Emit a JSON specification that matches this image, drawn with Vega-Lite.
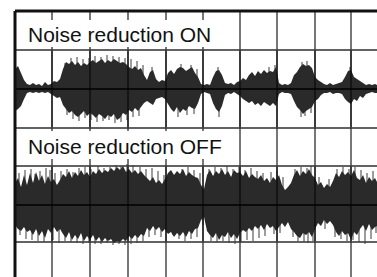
{
  "$schema": "https://vega.github.io/schema/vega-lite/v6.json",
  "width": 362,
  "height": 266,
  "autosize": {"type": "none"},
  "padding": {"left": 15, "top": 11, "right": 0, "bottom": 0},
  "background": "white",
  "config": {"view": {"stroke": null}},
  "datasets": {
    "gx": [{"t": 37}, {"t": 75}, {"t": 113}, {"t": 151}, {"t": 188}, {"t": 225}, {"t": 262}, {"t": 300}, {"t": 336}],
    "gy": [{"v": 227}, {"v": 188}, {"v": 149}, {"v": 111}, {"v": 72}, {"v": 35}],
    "over": [
      {"t":37,"a":150,"b":226},{"t":75,"a":150,"b":226},{"t":113,"a":150,"b":226},{"t":151,"a":150,"b":226},{"t":188,"a":150,"b":226},{"t":225,"a":150,"b":226},{"t":262,"a":150,"b":226},{"t":300,"a":150,"b":226},{"t":336,"a":150,"b":226},
      {"t":37,"a":36,"b":110},{"t":75,"a":36,"b":110},{"t":113,"a":36,"b":110},{"t":151,"a":36,"b":110},{"t":188,"a":36,"b":110},{"t":225,"a":36,"b":110},{"t":262,"a":36,"b":110},{"t":300,"a":36,"b":110},{"t":336,"a":36,"b":110}
    ],
    "centers": [{"v": 188}, {"v": 72}],
    "boxes": [{"x1": 5, "x2": 201, "y1": 257, "y2": 230}, {"x1": 5, "x2": 212, "y1": 146, "y2": 118}],
    "labels": [{"t": 13, "v": 235, "label": "Noise reduction ON"}, {"t": 13, "v": 123, "label": "Noise reduction OFF"}],
    "border": [{"x1": 0, "x2": 0, "y1": 0, "y2": 266}, {"x1": 0, "x2": 362, "y1": 266, "y2": 266}],
    "spikes": [
      {"t":50,"a":188,"b":214},{"t":56,"a":188,"b":219},{"t":62,"a":188,"b":220},{"t":68,"a":188,"b":218},{"t":74,"a":188,"b":219},{"t":80,"a":188,"b":221},{"t":86,"a":188,"b":220},{"t":92,"a":188,"b":222},{"t":98,"a":188,"b":221},{"t":104,"a":188,"b":220},{"t":110,"a":188,"b":219},{"t":116,"a":188,"b":218},{"t":122,"a":188,"b":216},{"t":128,"a":188,"b":212},{"t":137,"a":188,"b":210},{"t":166,"a":188,"b":213},{"t":176,"a":188,"b":212},{"t":182,"a":188,"b":208},{"t":203,"a":188,"b":210},{"t":254,"a":188,"b":210},{"t":260,"a":188,"b":212},{"t":287,"a":188,"b":215},{"t":292,"a":188,"b":216},{"t":335,"a":188,"b":210},
      {"t":52,"a":188,"b":162},{"t":58,"a":188,"b":158},{"t":64,"a":188,"b":156},{"t":70,"a":188,"b":159},{"t":76,"a":188,"b":157},{"t":82,"a":188,"b":155},{"t":88,"a":188,"b":156},{"t":94,"a":188,"b":157},{"t":100,"a":188,"b":154},{"t":106,"a":188,"b":155},{"t":112,"a":188,"b":157},{"t":118,"a":188,"b":160},{"t":124,"a":188,"b":161},{"t":163,"a":188,"b":160},{"t":172,"a":188,"b":162},{"t":179,"a":188,"b":163},{"t":204,"a":188,"b":160},{"t":286,"a":188,"b":160},{"t":290,"a":188,"b":161},{"t":296,"a":188,"b":164},
      {"t":4,"a":72,"b":104},{"t":10,"a":72,"b":107},{"t":16,"a":72,"b":108},{"t":20,"a":72,"b":103},{"t":25,"a":72,"b":106},{"t":31,"a":72,"b":109},{"t":35,"a":72,"b":107},{"t":40,"a":72,"b":104},{"t":46,"a":72,"b":106},{"t":52,"a":72,"b":108},{"t":58,"a":72,"b":105},{"t":64,"a":72,"b":109},{"t":70,"a":72,"b":110},{"t":76,"a":72,"b":108},{"t":83,"a":72,"b":111},{"t":89,"a":72,"b":109},{"t":95,"a":72,"b":110},{"t":101,"a":72,"b":112},{"t":106,"a":72,"b":111},{"t":112,"a":72,"b":113},{"t":118,"a":72,"b":112},{"t":125,"a":72,"b":110},{"t":131,"a":72,"b":108},{"t":137,"a":72,"b":109},{"t":143,"a":72,"b":106},{"t":149,"a":72,"b":102},{"t":155,"a":72,"b":104},{"t":161,"a":72,"b":101},{"t":167,"a":72,"b":108},{"t":173,"a":72,"b":110},{"t":179,"a":72,"b":107},{"t":185,"a":72,"b":104},{"t":194,"a":72,"b":108},{"t":200,"a":72,"b":110},{"t":206,"a":72,"b":109},{"t":212,"a":72,"b":111},{"t":218,"a":72,"b":108},{"t":224,"a":72,"b":110},{"t":230,"a":72,"b":107},{"t":236,"a":72,"b":109},{"t":242,"a":72,"b":106},{"t":248,"a":72,"b":104},{"t":256,"a":72,"b":105},{"t":262,"a":72,"b":106},{"t":268,"a":72,"b":100},{"t":280,"a":72,"b":108},{"t":286,"a":72,"b":110},{"t":292,"a":72,"b":109},{"t":296,"a":72,"b":111},{"t":304,"a":72,"b":100},{"t":314,"a":72,"b":98},{"t":322,"a":72,"b":108},{"t":328,"a":72,"b":110},{"t":334,"a":72,"b":108},{"t":340,"a":72,"b":110},{"t":346,"a":72,"b":107},{"t":352,"a":72,"b":104},{"t":358,"a":72,"b":106},
      {"t":5,"a":72,"b":42},{"t":11,"a":72,"b":38},{"t":17,"a":72,"b":37},{"t":23,"a":72,"b":36},{"t":29,"a":72,"b":35},{"t":38,"a":72,"b":37},{"t":44,"a":72,"b":34},{"t":50,"a":72,"b":36},{"t":56,"a":72,"b":35},{"t":62,"a":72,"b":34},{"t":68,"a":72,"b":33},{"t":74,"a":72,"b":34},{"t":80,"a":72,"b":33},{"t":86,"a":72,"b":33},{"t":92,"a":72,"b":34},{"t":98,"a":72,"b":32},{"t":104,"a":72,"b":33},{"t":110,"a":72,"b":32},{"t":116,"a":72,"b":33},{"t":122,"a":72,"b":34},{"t":128,"a":72,"b":36},{"t":134,"a":72,"b":40},{"t":140,"a":72,"b":42},{"t":146,"a":72,"b":40},{"t":152,"a":72,"b":44},{"t":158,"a":72,"b":42},{"t":164,"a":72,"b":38},{"t":170,"a":72,"b":36},{"t":176,"a":72,"b":38},{"t":182,"a":72,"b":40},{"t":188,"a":72,"b":52},{"t":196,"a":72,"b":36},{"t":202,"a":72,"b":35},{"t":208,"a":72,"b":36},{"t":214,"a":72,"b":34},{"t":220,"a":72,"b":33},{"t":226,"a":72,"b":35},{"t":232,"a":72,"b":37},{"t":238,"a":72,"b":36},{"t":244,"a":72,"b":39},{"t":250,"a":72,"b":41},{"t":259,"a":72,"b":43},{"t":265,"a":72,"b":44},{"t":278,"a":72,"b":40},{"t":283,"a":72,"b":36},{"t":289,"a":72,"b":35},{"t":293,"a":72,"b":34},{"t":298,"a":72,"b":36},{"t":310,"a":72,"b":48},{"t":320,"a":72,"b":40},{"t":326,"a":72,"b":38},{"t":332,"a":72,"b":36},{"t":338,"a":72,"b":37},{"t":344,"a":72,"b":35},{"t":350,"a":72,"b":33},{"t":356,"a":72,"b":38},{"t":361,"a":72,"b":44}
    ],
    "wave": [
      {"p":"on","t":0,"hi":208,"lo":166},{"p":"on","t":3,"hi":211,"lo":168},{"p":"on","t":6,"hi":204,"lo":171},{"p":"on","t":9,"hi":197,"lo":178},{"p":"on","t":12,"hi":193,"lo":184},{"p":"on","t":15,"hi":192,"lo":185},{"p":"on","t":18,"hi":194,"lo":184},{"p":"on","t":21,"hi":192,"lo":185},{"p":"on","t":24,"hi":193,"lo":184},{"p":"on","t":27,"hi":191,"lo":185},{"p":"on","t":30,"hi":195,"lo":184},{"p":"on","t":33,"hi":192,"lo":185},{"p":"on","t":36,"hi":193,"lo":183},{"p":"on","t":39,"hi":196,"lo":181},{"p":"on","t":42,"hi":195,"lo":179},{"p":"on","t":45,"hi":198,"lo":180},{"p":"on","t":48,"hi":208,"lo":172},{"p":"on","t":51,"hi":215,"lo":168},{"p":"on","t":54,"hi":213,"lo":164},{"p":"on","t":57,"hi":216,"lo":166},{"p":"on","t":60,"hi":212,"lo":162},{"p":"on","t":63,"hi":215,"lo":160},{"p":"on","t":66,"hi":211,"lo":163},{"p":"on","t":69,"hi":214,"lo":166},{"p":"on","t":72,"hi":212,"lo":161},{"p":"on","t":75,"hi":215,"lo":164},{"p":"on","t":78,"hi":217,"lo":162},{"p":"on","t":81,"hi":214,"lo":159},{"p":"on","t":84,"hi":216,"lo":163},{"p":"on","t":87,"hi":218,"lo":161},{"p":"on","t":90,"hi":214,"lo":158},{"p":"on","t":93,"hi":217,"lo":162},{"p":"on","t":96,"hi":215,"lo":160},{"p":"on","t":99,"hi":218,"lo":163},{"p":"on","t":102,"hi":216,"lo":157},{"p":"on","t":105,"hi":214,"lo":159},{"p":"on","t":108,"hi":215,"lo":164},{"p":"on","t":111,"hi":213,"lo":162},{"p":"on","t":114,"hi":210,"lo":167},{"p":"on","t":117,"hi":208,"lo":165},{"p":"on","t":120,"hi":211,"lo":169},{"p":"on","t":123,"hi":207,"lo":166},{"p":"on","t":126,"hi":209,"lo":170},{"p":"on","t":129,"hi":202,"lo":174},{"p":"on","t":132,"hi":197,"lo":176},{"p":"on","t":135,"hi":205,"lo":174},{"p":"on","t":138,"hi":207,"lo":172},{"p":"on","t":141,"hi":198,"lo":178},{"p":"on","t":144,"hi":195,"lo":179},{"p":"on","t":147,"hi":197,"lo":180},{"p":"on","t":150,"hi":196,"lo":178},{"p":"on","t":153,"hi":204,"lo":173},{"p":"on","t":156,"hi":207,"lo":168},{"p":"on","t":159,"hi":203,"lo":165},{"p":"on","t":162,"hi":208,"lo":170},{"p":"on","t":165,"hi":210,"lo":164},{"p":"on","t":168,"hi":209,"lo":168},{"p":"on","t":171,"hi":206,"lo":166},{"p":"on","t":174,"hi":208,"lo":171},{"p":"on","t":177,"hi":210,"lo":169},{"p":"on","t":180,"hi":204,"lo":168},{"p":"on","t":183,"hi":200,"lo":174},{"p":"on","t":186,"hi":193,"lo":183},{"p":"on","t":189,"hi":192,"lo":185},{"p":"on","t":192,"hi":193,"lo":184},{"p":"on","t":195,"hi":192,"lo":183},{"p":"on","t":198,"hi":200,"lo":174},{"p":"on","t":201,"hi":206,"lo":168},{"p":"on","t":204,"hi":207,"lo":165},{"p":"on","t":207,"hi":202,"lo":171},{"p":"on","t":210,"hi":194,"lo":182},{"p":"on","t":213,"hi":193,"lo":184},{"p":"on","t":216,"hi":194,"lo":183},{"p":"on","t":219,"hi":192,"lo":185},{"p":"on","t":222,"hi":195,"lo":183},{"p":"on","t":225,"hi":196,"lo":181},{"p":"on","t":228,"hi":199,"lo":178},{"p":"on","t":231,"hi":197,"lo":176},{"p":"on","t":234,"hi":202,"lo":174},{"p":"on","t":237,"hi":205,"lo":176},{"p":"on","t":240,"hi":201,"lo":172},{"p":"on","t":243,"hi":206,"lo":174},{"p":"on","t":246,"hi":203,"lo":171},{"p":"on","t":249,"hi":207,"lo":175},{"p":"on","t":252,"hi":204,"lo":173},{"p":"on","t":255,"hi":206,"lo":171},{"p":"on","t":258,"hi":205,"lo":174},{"p":"on","t":261,"hi":210,"lo":171},{"p":"on","t":264,"hi":194,"lo":183},{"p":"on","t":267,"hi":192,"lo":185},{"p":"on","t":270,"hi":193,"lo":184},{"p":"on","t":273,"hi":192,"lo":184},{"p":"on","t":276,"hi":194,"lo":183},{"p":"on","t":279,"hi":202,"lo":176},{"p":"on","t":282,"hi":205,"lo":170},{"p":"on","t":285,"hi":210,"lo":167},{"p":"on","t":288,"hi":213,"lo":163},{"p":"on","t":291,"hi":211,"lo":166},{"p":"on","t":294,"hi":212,"lo":168},{"p":"on","t":297,"hi":209,"lo":170},{"p":"on","t":300,"hi":200,"lo":176},{"p":"on","t":303,"hi":197,"lo":178},{"p":"on","t":306,"hi":195,"lo":182},{"p":"on","t":309,"hi":193,"lo":184},{"p":"on","t":312,"hi":192,"lo":184},{"p":"on","t":315,"hi":194,"lo":185},{"p":"on","t":318,"hi":192,"lo":183},{"p":"on","t":321,"hi":193,"lo":184},{"p":"on","t":324,"hi":194,"lo":184},{"p":"on","t":327,"hi":195,"lo":183},{"p":"on","t":330,"hi":200,"lo":178},{"p":"on","t":333,"hi":206,"lo":175},{"p":"on","t":336,"hi":207,"lo":173},{"p":"on","t":339,"hi":200,"lo":178},{"p":"on","t":342,"hi":198,"lo":176},{"p":"on","t":345,"hi":196,"lo":181},{"p":"on","t":348,"hi":194,"lo":179},{"p":"on","t":351,"hi":192,"lo":183},{"p":"on","t":354,"hi":193,"lo":184},{"p":"on","t":357,"hi":192,"lo":185},{"p":"on","t":360,"hi":193,"lo":184},{"p":"on","t":362,"hi":192,"lo":184},
      {"p":"off","t":0,"hi":94,"lo":52},{"p":"off","t":3,"hi":99,"lo":48},{"p":"off","t":6,"hi":90,"lo":46},{"p":"off","t":9,"hi":102,"lo":50},{"p":"off","t":12,"hi":92,"lo":45},{"p":"off","t":15,"hi":104,"lo":47},{"p":"off","t":18,"hi":94,"lo":42},{"p":"off","t":21,"hi":105,"lo":48},{"p":"off","t":24,"hi":96,"lo":41},{"p":"off","t":27,"hi":102,"lo":46},{"p":"off","t":30,"hi":93,"lo":39},{"p":"off","t":33,"hi":101,"lo":48},{"p":"off","t":36,"hi":95,"lo":44},{"p":"off","t":39,"hi":98,"lo":50},{"p":"off","t":42,"hi":92,"lo":45},{"p":"off","t":45,"hi":97,"lo":48},{"p":"off","t":48,"hi":103,"lo":43},{"p":"off","t":51,"hi":100,"lo":39},{"p":"off","t":54,"hi":106,"lo":45},{"p":"off","t":57,"hi":99,"lo":37},{"p":"off","t":60,"hi":105,"lo":42},{"p":"off","t":63,"hi":101,"lo":38},{"p":"off","t":66,"hi":107,"lo":44},{"p":"off","t":69,"hi":102,"lo":36},{"p":"off","t":72,"hi":105,"lo":41},{"p":"off","t":75,"hi":100,"lo":37},{"p":"off","t":78,"hi":106,"lo":42},{"p":"off","t":81,"hi":103,"lo":36},{"p":"off","t":84,"hi":108,"lo":40},{"p":"off","t":87,"hi":104,"lo":35},{"p":"off","t":90,"hi":107,"lo":39},{"p":"off","t":93,"hi":105,"lo":36},{"p":"off","t":96,"hi":109,"lo":38},{"p":"off","t":99,"hi":106,"lo":34},{"p":"off","t":102,"hi":110,"lo":36},{"p":"off","t":105,"hi":107,"lo":35},{"p":"off","t":108,"hi":111,"lo":38},{"p":"off","t":111,"hi":105,"lo":36},{"p":"off","t":114,"hi":108,"lo":41},{"p":"off","t":117,"hi":104,"lo":38},{"p":"off","t":120,"hi":107,"lo":42},{"p":"off","t":123,"hi":103,"lo":39},{"p":"off","t":126,"hi":106,"lo":43},{"p":"off","t":129,"hi":102,"lo":41},{"p":"off","t":132,"hi":99,"lo":49},{"p":"off","t":135,"hi":96,"lo":46},{"p":"off","t":138,"hi":100,"lo":51},{"p":"off","t":141,"hi":94,"lo":47},{"p":"off","t":144,"hi":97,"lo":50},{"p":"off","t":147,"hi":93,"lo":45},{"p":"off","t":150,"hi":98,"lo":48},{"p":"off","t":153,"hi":104,"lo":43},{"p":"off","t":156,"hi":107,"lo":45},{"p":"off","t":159,"hi":102,"lo":40},{"p":"off","t":162,"hi":106,"lo":44},{"p":"off","t":165,"hi":103,"lo":41},{"p":"off","t":168,"hi":108,"lo":45},{"p":"off","t":171,"hi":101,"lo":40},{"p":"off","t":174,"hi":105,"lo":46},{"p":"off","t":177,"hi":102,"lo":43},{"p":"off","t":180,"hi":100,"lo":48},{"p":"off","t":183,"hi":99,"lo":49},{"p":"off","t":186,"hi":92,"lo":57},{"p":"off","t":189,"hi":88,"lo":60},{"p":"off","t":192,"hi":102,"lo":46},{"p":"off","t":195,"hi":107,"lo":42},{"p":"off","t":198,"hi":101,"lo":39},{"p":"off","t":201,"hi":106,"lo":44},{"p":"off","t":204,"hi":103,"lo":37},{"p":"off","t":207,"hi":108,"lo":42},{"p":"off","t":210,"hi":102,"lo":40},{"p":"off","t":213,"hi":106,"lo":45},{"p":"off","t":216,"hi":100,"lo":39},{"p":"off","t":219,"hi":107,"lo":43},{"p":"off","t":222,"hi":104,"lo":38},{"p":"off","t":225,"hi":105,"lo":44},{"p":"off","t":228,"hi":101,"lo":47},{"p":"off","t":231,"hi":106,"lo":45},{"p":"off","t":234,"hi":99,"lo":49},{"p":"off","t":237,"hi":103,"lo":46},{"p":"off","t":240,"hi":100,"lo":51},{"p":"off","t":243,"hi":98,"lo":48},{"p":"off","t":246,"hi":102,"lo":52},{"p":"off","t":249,"hi":96,"lo":47},{"p":"off","t":252,"hi":99,"lo":53},{"p":"off","t":255,"hi":94,"lo":49},{"p":"off","t":258,"hi":100,"lo":51},{"p":"off","t":261,"hi":97,"lo":46},{"p":"off","t":264,"hi":102,"lo":50},{"p":"off","t":267,"hi":92,"lo":54},{"p":"off","t":270,"hi":87,"lo":50},{"p":"off","t":273,"hi":90,"lo":55},{"p":"off","t":276,"hi":94,"lo":48},{"p":"off","t":279,"hi":102,"lo":45},{"p":"off","t":282,"hi":107,"lo":41},{"p":"off","t":285,"hi":101,"lo":39},{"p":"off","t":288,"hi":106,"lo":44},{"p":"off","t":291,"hi":103,"lo":42},{"p":"off","t":294,"hi":108,"lo":45},{"p":"off","t":297,"hi":102,"lo":40},{"p":"off","t":300,"hi":99,"lo":48},{"p":"off","t":303,"hi":92,"lo":54},{"p":"off","t":306,"hi":95,"lo":51},{"p":"off","t":309,"hi":89,"lo":57},{"p":"off","t":312,"hi":93,"lo":53},{"p":"off","t":315,"hi":90,"lo":56},{"p":"off","t":318,"hi":96,"lo":52},{"p":"off","t":321,"hi":104,"lo":45},{"p":"off","t":324,"hi":100,"lo":41},{"p":"off","t":327,"hi":106,"lo":46},{"p":"off","t":330,"hi":102,"lo":42},{"p":"off","t":333,"hi":105,"lo":44},{"p":"off","t":336,"hi":101,"lo":37},{"p":"off","t":339,"hi":107,"lo":45},{"p":"off","t":342,"hi":99,"lo":42},{"p":"off","t":345,"hi":97,"lo":48},{"p":"off","t":348,"hi":102,"lo":52},{"p":"off","t":351,"hi":94,"lo":46},{"p":"off","t":354,"hi":100,"lo":53},{"p":"off","t":357,"hi":96,"lo":47},{"p":"off","t":360,"hi":99,"lo":50},{"p":"off","t":362,"hi":95,"lo":51}
    ]
  },
  "layer": [
    {
      "data": {"name": "gx"},
      "mark": {"type": "rule", "color": "#2e2e2e", "strokeWidth": 1.3},
      "encoding": {
        "x": {"field": "t", "type": "quantitative", "scale": {"domain": [0, 362], "nice": false, "zero": false}, "axis": null}
      }
    },
    {
      "data": {"name": "gy"},
      "mark": {"type": "rule", "color": "#2e2e2e", "strokeWidth": 1.3},
      "encoding": {
        "y": {"field": "v", "type": "quantitative", "scale": {"domain": [0, 266], "nice": false, "zero": false}, "axis": null}
      }
    },
    {
      "data": {"name": "boxes"},
      "mark": {"type": "rect", "fill": "white"},
      "encoding": {
        "x": {"field": "x1", "type": "quantitative"},
        "x2": {"field": "x2"},
        "y": {"field": "y1", "type": "quantitative"},
        "y2": {"field": "y2"}
      }
    },
    {
      "data": {"name": "labels"},
      "mark": {"type": "text", "align": "left", "baseline": "alphabetic", "font": "Liberation Sans", "fontSize": 21, "color": "#111111"},
      "encoding": {
        "x": {"field": "t", "type": "quantitative"},
        "y": {"field": "v", "type": "quantitative"},
        "text": {"field": "label"}
      }
    },
    {
      "data": {"name": "spikes"},
      "mark": {"type": "rule", "color": "#3a3a3a", "strokeWidth": 1},
      "encoding": {
        "x": {"field": "t", "type": "quantitative"},
        "y": {"field": "a", "type": "quantitative"},
        "y2": {"field": "b"}
      }
    },
    {
      "data": {"name": "wave"},
      "mark": {"type": "area", "color": "#2a2a2a", "interpolate": "linear"},
      "encoding": {
        "x": {"field": "t", "type": "quantitative"},
        "y": {"field": "hi", "type": "quantitative"},
        "y2": {"field": "lo"},
        "detail": {"field": "p"}
      }
    },
    {
      "data": {"name": "over"},
      "mark": {"type": "rule", "color": "#000000", "strokeWidth": 1},
      "encoding": {
        "x": {"field": "t", "type": "quantitative"},
        "y": {"field": "a", "type": "quantitative"},
        "y2": {"field": "b"}
      }
    },
    {
      "data": {"name": "centers"},
      "mark": {"type": "rule", "color": "#000000", "strokeWidth": 1.5},
      "encoding": {
        "y": {"field": "v", "type": "quantitative"}
      }
    },
    {
      "data": {"name": "border"},
      "mark": {"type": "rule", "color": "#111111", "strokeWidth": 3},
      "encoding": {
        "x": {"field": "x1", "type": "quantitative"},
        "x2": {"field": "x2"},
        "y": {"field": "y1", "type": "quantitative"},
        "y2": {"field": "y2"}
      }
    }
  ]
}
